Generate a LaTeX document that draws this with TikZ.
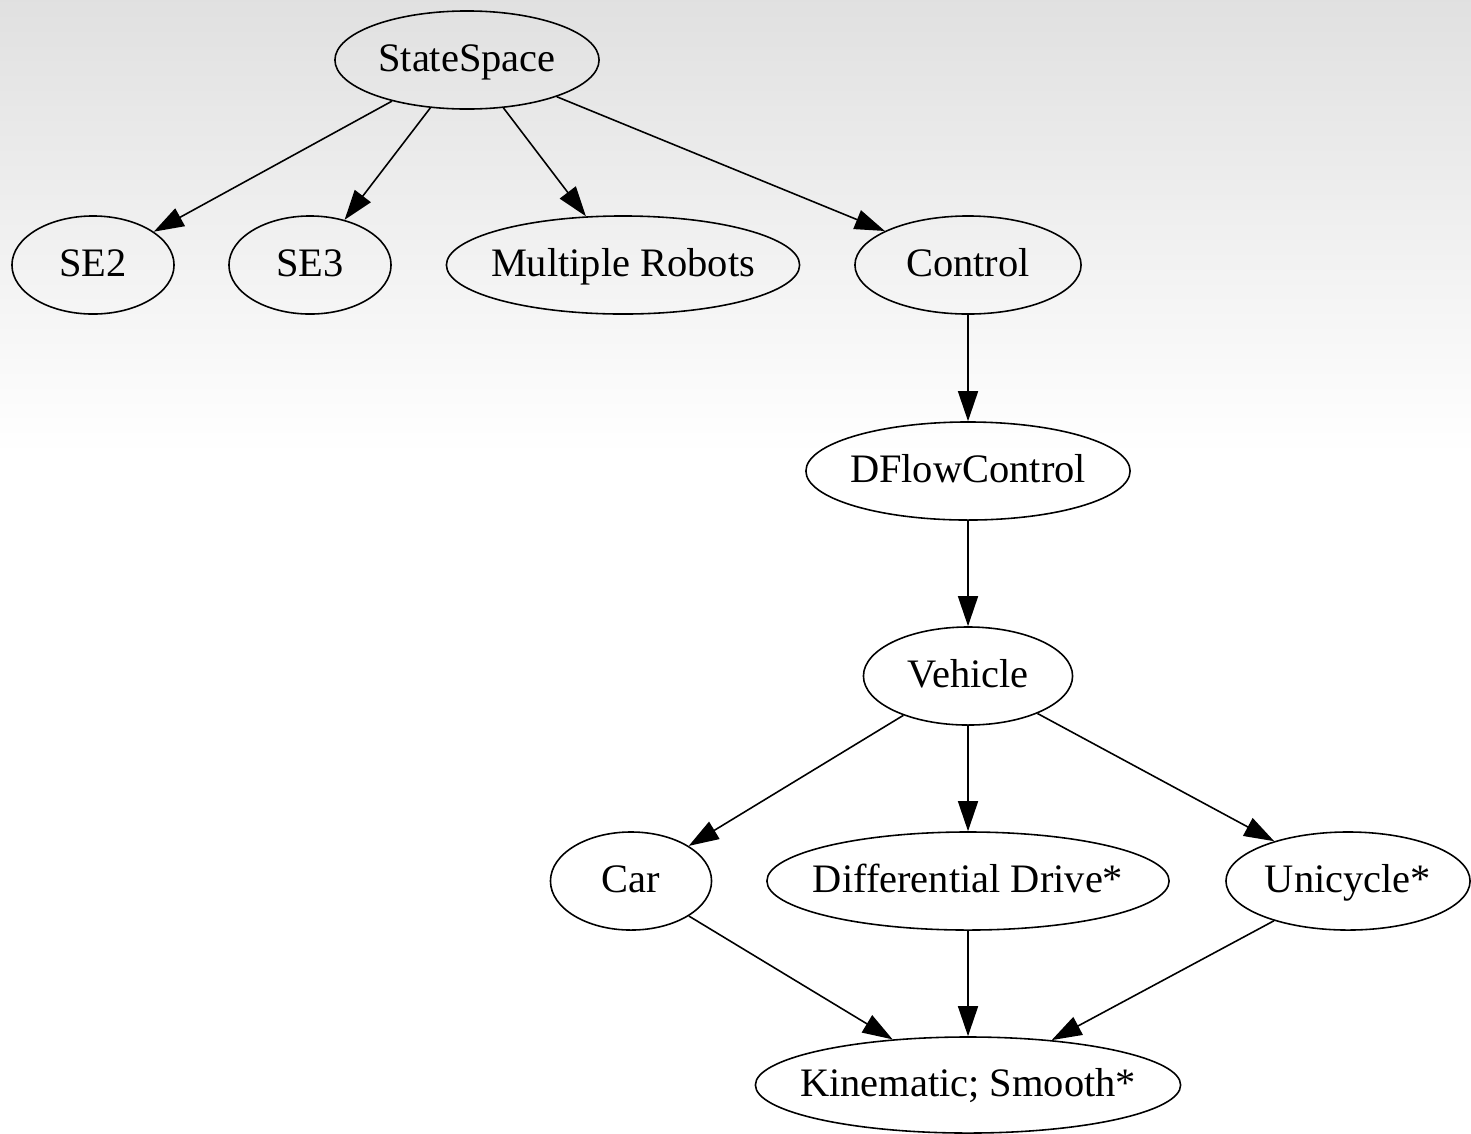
\documentclass[tikz,border=0pt]{standalone}
\usepackage{fontspec}
\setmainfont{Liberation Serif}
\usetikzlibrary{shapes.geometric,arrows.meta}
\begin{document}
\begin{tikzpicture}[x=0.01cm,y=-0.01cm,
  gnode/.style={ellipse,draw=black,line width=0.45pt,inner xsep=-0.45cm,inner ysep=-0.2cm,
    text height=1.55ex,text depth=0.1ex,
    minimum height=0.98cm,font=\fontsize{11.5pt}{13pt}\selectfont},
  edge/.style={line width=0.45pt,-{Triangle[length=0.3cm,width=0.2cm]}}]
  % page and the grey fade behind the upper part
  \useasboundingbox (0,0) rectangle (1471,1133);
  \clip (0,0) rectangle (1471,1133);
  \fill[white] (0,0) rectangle (1471,1133);
  \shade[top color=black!12,bottom color=white] (0,0) rectangle (1471,455);

  % nodes
  \node[gnode,minimum width=2.64cm] (ss) at (467,60) {StateSpace};
  \node[gnode,minimum width=1.62cm] (se2) at (93,265) {SE2};
  \node[gnode,minimum width=1.62cm] (se3) at (310,265) {SE3};
  \node[gnode,minimum width=3.53cm] (mr) at (623,265) {Multiple Robots};
  \node[gnode,minimum width=2.26cm] (ctl) at (968,265) {Control};
  \node[gnode,minimum width=3.24cm] (dfc) at (968,471) {DFlowControl};
  \node[gnode,minimum width=2.09cm] (veh) at (968,676) {Vehicle};
  \node[gnode,minimum width=1.61cm] (car) at (631,881) {Car};
  \node[gnode,minimum width=4.02cm] (dd) at (968,881) {Differential Drive*};
  \node[gnode,minimum width=2.44cm] (uni) at (1348,881) {Unicycle*};
  \node[gnode,minimum width=4.25cm,minimum height=0.96cm] (kin) at (968,1085) {Kinematic; Smooth*};

  % edges
  \draw[edge] (ss) -- (se2);
  \draw[edge] (ss) -- (se3);
  \draw[edge] (ss) -- (mr);
  \draw[edge] (ss) -- (ctl);
  \draw[edge] (ctl) -- (dfc);
  \draw[edge] (dfc) -- (veh);
  \draw[edge] (veh) -- (car);
  \draw[edge] (veh) -- (dd);
  \draw[edge] (veh) -- (uni);
  \draw[edge] (car) -- (kin);
  \draw[edge] (dd) -- (kin);
  \draw[edge] (uni) -- (kin);
\end{tikzpicture}
\end{document}
